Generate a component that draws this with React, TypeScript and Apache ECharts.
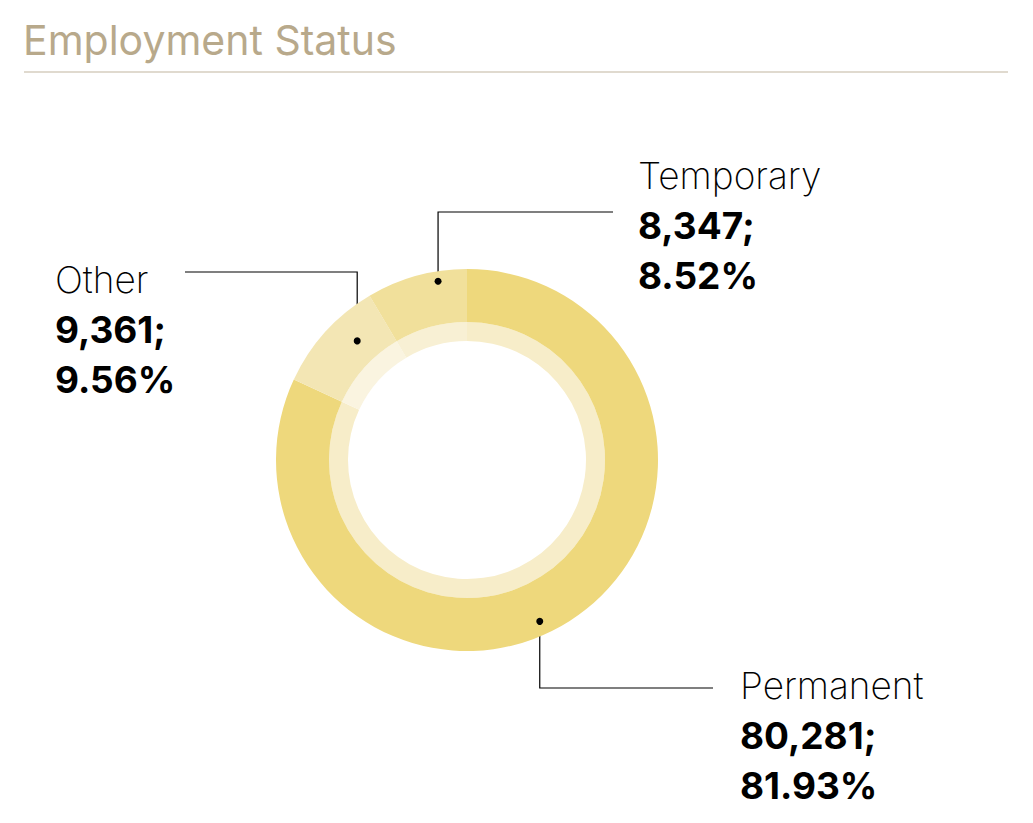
import React, { useEffect, useRef } from 'react';
import * as echarts from 'echarts';

const categories = ['Permanent', 'Other', 'Temporary'];
const employees = [80281, 9361, 8347];
const percentLabels = ['81.93', '9.56', '8.52'];
const outerColors = ['#EED87C', '#F3E6B4', '#F1E09B'];
const innerColors = ['#F7EDC9', '#FAF4E0', '#F8F0D4'];

const CENTER = [467, 460];
const FONT = 'Inter, "Noto Sans", sans-serif';

// leader line start (share of the slice, distance from centre), elbow and label box
const callouts = [
  { at: 0.528, r: 177, elbowY: 688, endX: 713, textX: 740, textY: 660 },
  { at: 0.651, r: 162, elbowY: 272, endX: 185, textX: 55, textY: 254 },
  { at: 0.7, r: 181, elbowY: 212, endX: 613, textX: 638, textY: 150 },
];

const total = employees.reduce((a, b) => a + b, 0);

const anchorOf = (i: number): [number, number] => {
  const before = employees.slice(0, i).reduce((a, b) => a + b, 0);
  const deg = ((before + employees[i] * callouts[i].at) / total) * 360;
  const rad = (deg * Math.PI) / 180;
  return [
    CENTER[0] + callouts[i].r * Math.sin(rad),
    CENTER[1] - callouts[i].r * Math.cos(rad),
  ];
};

const App: React.FC = () => {
  const chartRef = useRef<HTMLDivElement>(null);

  useEffect(() => {
    if (!chartRef.current) return;
    const chart = echarts.init(chartRef.current, undefined, { renderer: 'svg' });

    const dots = categories.map((_, i) => {
      const [x, y] = anchorOf(i);
      return {
        type: 'circle',
        shape: { cx: x, cy: y, r: 3.5 },
        style: { fill: '#000' },
        z: 100,
      };
    });

    const option = {
      animation: false,
      title: {
        text: 'Employment Status',
        left: 23,
        top: 19,
        padding: 0,
        textStyle: {
          fontFamily: FONT,
          fontSize: 41,
          fontWeight: 400,
          color: '#B8A98B',
        },
      },
      graphic: [
        {
          type: 'line',
          shape: { x1: 24, y1: 72, x2: 1008, y2: 72 },
          style: { stroke: '#D6CEBF', lineWidth: 1.5 },
        },
        ...dots,
      ],
      series: [
        {
          type: 'pie',
          center: CENTER,
          radius: [119, 138],
          startAngle: 90,
          clockwise: true,
          silent: true,
          label: { show: false },
          labelLine: { show: false },
          data: categories.map((name, i) => ({
            name,
            value: employees[i],
            itemStyle: { color: innerColors[i] },
          })),
        },
        {
          type: 'pie',
          center: CENTER,
          radius: [138, 191],
          startAngle: 90,
          clockwise: true,
          silent: true,
          avoidLabelOverlap: false,
          data: categories.map((name, i) => ({
            name,
            value: employees[i],
            itemStyle: { color: outerColors[i] },
          })),
          label: {
            show: true,
            position: 'outside',
            formatter: (p: any) =>
              `{n|${p.name}}\n{v|${employees[p.dataIndex].toLocaleString('en-US')};}\n{v|${percentLabels[p.dataIndex]}%}`,
            rich: {
              n: {
                fontFamily: FONT,
                fontSize: 37,
                fontWeight: 200,
                lineHeight: 50,
                color: '#000',
              },
              v: {
                fontFamily: FONT,
                fontSize: 37,
                fontWeight: 700,
                lineHeight: 50,
                color: '#000',
              },
            },
          },
          labelLine: {
            show: true,
            smooth: false,
            lineStyle: { color: '#000', width: 1.2 },
          },
          labelLayout: (params: any) => {
            const i = params.dataIndex;
            const c = callouts[i];
            const [x, y] = anchorOf(i);
            return {
              x: c.textX,
              y: c.textY,
              align: 'left',
              verticalAlign: 'top',
              labelLinePoints: [
                [x, y],
                [x, c.elbowY],
                [c.endX, c.elbowY],
              ],
            };
          },
        },
      ],
    };

    chart.setOption(option as any);

    return () => {
      chart.dispose();
    };
  }, []);

  return (
    <div
      ref={chartRef}
      style={{ position: 'absolute', left: 0, top: 0, width: 1033, height: 823, background: '#fff' }}
    />
  );
};

export default App;
